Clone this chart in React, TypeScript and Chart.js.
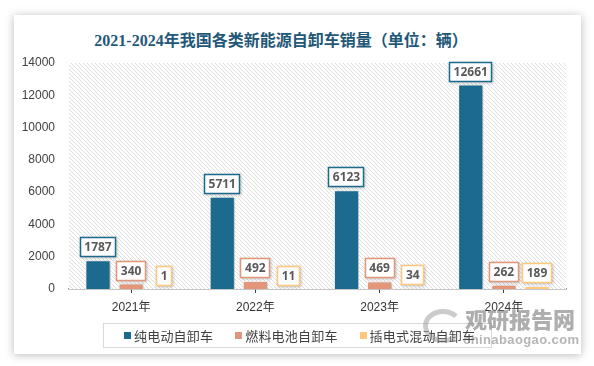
import React, { useEffect, useRef } from "react";
import { Chart, registerables } from "chart.js";

Chart.register(...registerables);

const categories = ["2021年", "2022年", "2023年", "2024年"];
const seriesNames = ["纯电动自卸车", "燃料电池自卸车", "插电式混动自卸车"];
const pureElectric = [1787, 5711, 6123, 12661];
const fuelCell = [340, 492, 469, 262];
const plugInHybrid = [1, 11, 34, 189];
const seriesColors = ["#1c6b8f", "#e3967a", "#ffc87c"];
const yTicks = [0, 2000, 4000, 6000, 8000, 10000, 12000, 14000];
const titleText = "2021-2024年我国各类新能源自卸车销量（单位：辆）";

function makeHatch(): CanvasPattern | string {
  const c = document.createElement("canvas");
  c.width = 4;
  c.height = 4;
  const g = c.getContext("2d");
  if (!g) return "#f4f4f4";
  g.fillStyle = "#ffffff";
  g.fillRect(0, 0, 4, 4);
  g.fillStyle = "#dedede";
  for (let i = 0; i < 4; i++) g.fillRect(i, i, 1, 1);
  const p = g.createPattern(c, "repeat");
  return p || "#f4f4f4";
}

const hatchPlugin = {
  id: "hatchBg",
  beforeDatasetsDraw(chart: any) {
    const { ctx, chartArea } = chart;
    ctx.save();
    ctx.fillStyle = makeHatch();
    ctx.fillRect(chartArea.left, chartArea.top, chartArea.right - chartArea.left, chartArea.bottom - chartArea.top);
    ctx.restore();
  },
};

const shadowPlugin = {
  id: "barShadow",
  beforeDatasetDraw(chart: any) {
    const ctx = chart.ctx;
    ctx.save();
    ctx.shadowColor = "rgba(0,0,0,0.3)";
    ctx.shadowBlur = 4;
    ctx.shadowOffsetX = 2;
    ctx.shadowOffsetY = 1;
  },
  afterDatasetDraw(chart: any) {
    chart.ctx.restore();
  },
};

const labelPlugin = {
  id: "boxLabels",
  afterDatasetsDraw(chart: any) {
    const ctx = chart.ctx;
    chart.data.datasets.forEach((ds: any, i: number) => {
      const meta = chart.getDatasetMeta(i);
      meta.data.forEach((bar: any, j: number) => {
        const text = String(ds.data[j]);
        ctx.save();
        ctx.font = 'bold 12px "Open Sans", "Liberation Sans", sans-serif';
        const tw = ctx.measureText(text).width;
        const w = Math.round(tw + 9);
        const h = 20;
        const x = Math.round(bar.x - w / 2);
        const y = Math.round(bar.y - 3 - h);
        ctx.shadowColor = "rgba(0,0,0,0.25)";
        ctx.shadowBlur = 3;
        ctx.shadowOffsetX = 1;
        ctx.shadowOffsetY = 1;
        ctx.fillStyle = "#ffffff";
        ctx.fillRect(x, y, w, h);
        ctx.shadowColor = "transparent";
        ctx.strokeStyle = seriesColors[i];
        ctx.lineWidth = 1.5;
        ctx.strokeRect(x + 0.5, y + 0.5, w - 1, h - 1);
        ctx.fillStyle = "#595959";
        ctx.textAlign = "center";
        ctx.textBaseline = "middle";
        ctx.fillText(text, bar.x, y + h / 2 + 1);
        ctx.restore();
      });
    });
  },
};

export default function App() {
  const ref = useRef<HTMLCanvasElement>(null);

  useEffect(() => {
    if (!ref.current) return;
    const data = [pureElectric, fuelCell, plugInHybrid];
    const chart = new Chart(ref.current, {
      type: "bar",
      data: {
        labels: categories,
        datasets: seriesNames.map((name, i) => ({
          label: name,
          data: data[i],
          backgroundColor: seriesColors[i],
          borderColor: "#ffffff",
          borderWidth: 1,
          categoryPercentage: 0.8,
          barPercentage: 0.76,
        })),
      },
      options: {
        responsive: false,
        animation: false,
        devicePixelRatio: 1,
        layout: { padding: { top: 63, right: 28, left: 0, bottom: 0 } },
        plugins: {
          legend: { display: false },
          title: { display: false },
          tooltip: { enabled: false },
        },
        scales: {
          x: {
            afterFit: (s: any) => {
              s.height = 77;
            },
            grid: {
              display: true,
              drawOnChartArea: false,
              drawTicks: true,
              tickLength: 4,
              offset: false,
              color: "#404040",
            },
            border: { display: true, color: "#8c8c8c", width: 1.5 },
            ticks: {
              color: "#333333",
              padding: 7,
              font: { size: 12, family: '"Liberation Sans", "Noto Sans CJK SC", sans-serif' },
            },
          },
          y: {
            min: 0,
            max: 14000,
            afterFit: (s: any) => {
              s.width = 69;
            },
            afterBuildTicks: (s: any) => {
              s.ticks = yTicks.map((v) => ({ value: v }));
            },
            grid: { display: false, drawTicks: false },
            border: { display: false },
            ticks: {
              color: "#404040",
              padding: 14,
              callback: (v: any) => String(v),
              font: { size: 12, family: '"Liberation Sans", sans-serif' },
            },
          },
        },
      },
      plugins: [hatchPlugin, shadowPlugin, labelPlugin],
    });
    return () => chart.destroy();
  }, []);

  return (
    <div style={{ position: "fixed", left: 0, top: 0, width: 594, height: 366, background: "#ffffff", overflow: "hidden" }}>
      <div
        style={{
          position: "absolute",
          left: 14,
          top: 15,
          width: 567,
          height: 339,
          background: "#ffffff",
          boxShadow: "0 1px 9px rgba(0,0,0,0.28)",
        }}
      />
      <div
        style={{
          position: "absolute",
          left: 0,
          top: 31,
          width: 562,
          textAlign: "center",
          fontFamily: '"Liberation Serif", "Noto Sans CJK SC", serif',
          fontWeight: "bold",
          fontSize: 16,
          lineHeight: "20px",
          color: "#1f5878",
          whiteSpace: "nowrap",
        }}
      >
        {titleText}
      </div>
      <canvas ref={ref} width={594} height={366} style={{ position: "absolute", left: 0, top: 0, width: 594, height: 366 }} />
      <div
        style={{
          position: "absolute",
          left: 103,
          top: 323,
          width: 389,
          height: 25,
          border: "1px solid #d9d9d9",
          boxSizing: "border-box",
          display: "flex",
          alignItems: "center",
          paddingLeft: 20,
          gap: 22,
          fontFamily: '"Noto Sans CJK SC", sans-serif',
          fontSize: 13,
          letterSpacing: 0.2,
          color: "#404040",
          whiteSpace: "nowrap",
        }}
      >
        {seriesNames.map((n, i) => (
          <div key={n} style={{ display: "flex", alignItems: "center" }}>
            <span style={{ display: "inline-block", width: 7, height: 7, background: seriesColors[i], marginRight: 3 }} />
            <span>{n}</span>
          </div>
        ))}
      </div>
      <div
        style={{
          position: "absolute",
          left: 423,
          top: 309,
          width: 30,
          height: 24,
          borderRadius: "50%",
          border: "5px solid rgba(140,140,140,0.45)",
          borderRightColor: "transparent",
        }}
      />
      <div
        style={{
          position: "absolute",
          left: 465,
          top: 304,
          fontFamily: '"Noto Sans CJK SC", sans-serif',
          fontWeight: 900,
          fontSize: 22,
          lineHeight: "28px",
          color: "rgba(120,120,120,0.6)",
          whiteSpace: "nowrap",
        }}
      >
        观研报告网
      </div>
      <div
        style={{
          position: "absolute",
          left: 463,
          top: 332,
          fontFamily: '"Liberation Sans", sans-serif',
          fontWeight: "bold",
          fontSize: 13,
          lineHeight: "16px",
          letterSpacing: 0.4,
          color: "rgba(120,120,120,0.55)",
          whiteSpace: "nowrap",
        }}
      >
        chinabaogao.com
      </div>
    </div>
  );
}
